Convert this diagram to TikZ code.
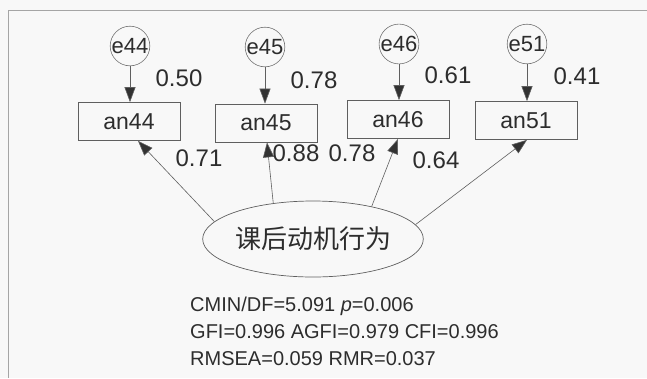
\documentclass[tikz,border=0pt]{standalone}
\usepackage{fontspec}
\setmainfont{Liberation Sans}
\newfontfamily\cjk{Noto Sans CJK SC}
\usetikzlibrary{arrows.meta,shapes.geometric}
\definecolor{txtc}{RGB}{45,45,45}
\definecolor{linec}{RGB}{95,95,95}
\definecolor{headc}{RGB}{50,50,50}
\definecolor{circc}{RGB}{115,115,115}
\definecolor{framec}{RGB}{165,165,165}
\definecolor{bgc}{RGB}{248,248,248}
\begin{document}
\begin{tikzpicture}[x=1pt,y=-1pt,
  every node/.style={text=txtc},
  errc/.style={circle,draw=circc,line width=0.6pt,minimum size=39pt,inner sep=0pt,font=\fontsize{22}{22}\selectfont},
  obsbox/.style={rectangle,draw=linec,line width=0.7pt,minimum width=102pt,minimum height=38pt,inner sep=0pt,font=\fontsize{23}{23}\selectfont},
  latent/.style={ellipse,draw=linec,line width=0.7pt,minimum width=203pt,minimum height=76pt,inner sep=0pt,font=\cjk\fontsize{26}{26}\selectfont},
  lab/.style={font=\fontsize{24}{24}\selectfont,inner sep=0pt},
  stat/.style={font=\fontsize{20}{20}\selectfont,inner sep=0pt,anchor=base west},
  arr/.style={draw=linec,line width=0.6pt,-{Triangle[length=15pt,width=11pt,fill=headc]}},
]
\useasboundingbox (0,0) rectangle (647,378);
\fill[bgc] (0,0) rectangle (647,378);
\draw[framec,line width=0.8pt] (8,378) -- (8,10) -- (647,10);

\node[errc] (e44) at (130,46) {e44};
\node[errc] (e45) at (265,47) {e45};
\node[errc] (e46) at (399,44) {e46};
\node[errc] (e51) at (527,44) {e51};

\node[obsbox] (an44) at (129,121.5) {an44};
\node[obsbox] (an45) at (266,123) {an45};
\node[obsbox] (an46) at (398,119.5) {an46};
\node[obsbox] (an51) at (526,120.5) {an51};

\node[latent] (lat) at (313,239) {课后动机行为};

\draw[arr] (e44.south) -- (e44.south |- an44.north);
\draw[arr] (e45.south) -- (e45.south |- an45.north);
\draw[arr] (e46.south) -- (e46.south |- an46.north);
\draw[arr] (e51.south) -- (e51.south |- an51.north);

\draw[arr] (lat.170) -- ([xshift=9pt]an44.south);
\draw[arr] (lat.138) -- ([xshift=1pt]an45.south);
\draw[arr] (lat.29) -- (an46.south);
\draw[arr] (lat.8) -- ([xshift=1pt]an51.south);

\node[lab] (l1) at (179,78) {0.50};
\node[lab] (l2) at (314,80) {0.78};
\node[lab] (l3) at (448,75) {0.61};
\node[lab] (l4) at (577,76) {0.41};
\node[lab] (l5) at (199,158) {0.71};
\node[lab] (l6) at (296,153) {0.88};
\node[lab] (l7) at (352,153) {0.78};
\node[lab] (l8) at (436,160) {0.64};

\node[stat] (s1) at (190,311) {CMIN/DF=5.091 \textit{p}=0.006};
\node[stat] (s2) at (190,338) {GFI=0.996 AGFI=0.979 CFI=0.996};
\node[stat] (s3) at (190,365) {RMSEA=0.059 RMR=0.037};
\end{tikzpicture}
\end{document}
